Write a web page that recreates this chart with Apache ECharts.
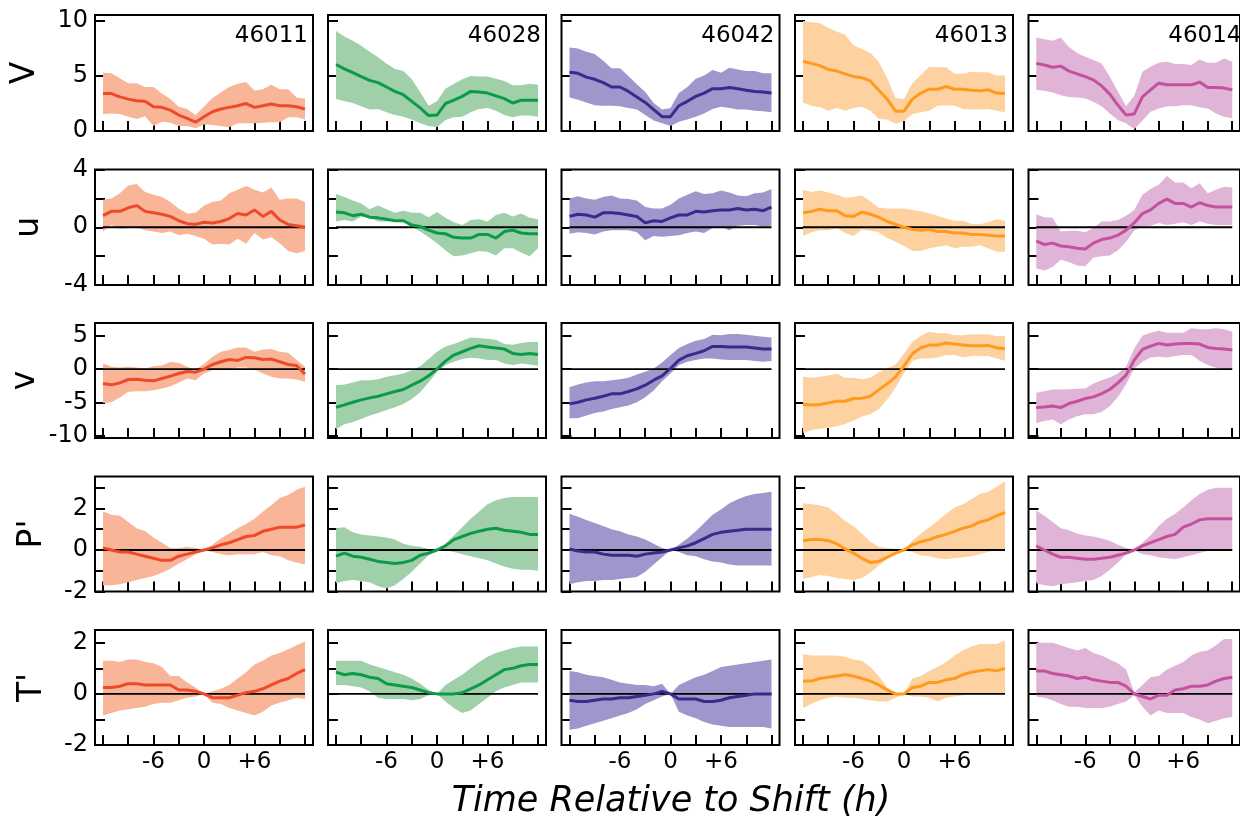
<!DOCTYPE html>
<html>
<head>
<meta charset="utf-8">
<script src="https://cdn.jsdelivr.net/npm/echarts@6/dist/echarts.min.js"></script>
<style>
html, body { margin: 0; padding: 0; background: #fff; }
#chart { width: 1240px; height: 818px; }
</style>
</head>
<body>
<div id="chart"></div>
<script>
// hours relative to the shift
var hours = [-12, -11, -10, -9, -8, -7, -6, -5, -4, -3, -2, -1, 0, 1, 2, 3, 4, 5, 6, 7, 8, 9, 10, 11, 12];
var hourTicks = [-12, -9, -6, -3, 0, 3, 6, 9, 12];
var hourLabels = [-6, 0, 6];

var stations = ['46011', '46028', '46042', '46013', '46014'];
var rowNames = ['V', 'u', 'v', "P'", "T'"];

var spdTicks = [0, 5, 10], spdLabels = [0, 5, 10];
var uTicks = [-4, -2, 0, 2, 4], uLabels = [-4, 0, 4];
var vTicks = [-10, -5, 0, 5], vLabels = [-10, -5, 0, 5];
var pTicks = [-2, -1, 0, 1, 2, 3], pLabels = [-2, 0, 2];
var tTicks = [-2, -1, 0, 1, 2], tLabels = [-2, 0, 2];

// ---- 46011 ----
var spd_46011_mean = [3.4,3.4,3.1,2.9,2.75,2.7,2.2,2.15,1.9,1.45,1.15,0.8,1.3,1.75,2.0,2.15,2.3,2.5,2.15,2.3,2.45,2.3,2.3,2.2,2.0];
var spd_46011_hi = [5.3,5.25,4.8,4.35,4.35,4.0,4.0,3.4,2.9,2.2,2.0,1.45,2.2,3.0,3.5,4.0,4.3,4.45,3.65,3.8,4.2,3.8,3.8,3.05,2.95];
var spd_46011_lo = [1.55,1.6,1.55,1.3,1.1,1.35,0.45,0.85,0.75,0.45,0.45,0.25,0.6,0.55,0.45,0.35,0.7,0.7,0.7,0.75,0.8,0.8,1.25,1.25,1.05];
var u_46011_mean = [0.8,1.1,1.1,1.35,1.5,1.1,1.0,0.9,0.75,0.45,0.25,0.2,0.35,0.3,0.4,0.6,0.95,0.85,1.2,0.75,1.1,0.5,0.2,0.1,0.0];
var u_46011_hi = [1.9,2.0,2.35,2.9,3.0,2.45,2.25,2.1,1.75,1.3,0.95,1.0,1.5,1.75,1.85,2.35,2.6,2.85,2.6,2.4,2.75,1.9,2.0,2.0,1.75];
var u_46011_lo = [-0.3,0.15,-0.1,-0.05,0,-0.2,-0.3,-0.4,-0.3,-0.55,-0.45,-0.6,-0.8,-1.2,-1.15,-1.2,-0.8,-1.15,-0.4,-0.85,-0.7,-1.1,-1.65,-1.8,-1.65];
var v_46011_mean = [-2.15,-2.35,-2.05,-1.55,-1.5,-1.65,-1.75,-1.4,-1.05,-0.65,-0.35,-0.45,0,0.7,1.1,1.45,1.3,1.75,1.7,1.45,1.5,1.1,0.7,0.55,-0.75];
var v_46011_hi = [0.85,0.35,0.25,0.35,0.25,0.1,0.45,0.55,1.05,0.95,0.35,-0.05,0.75,1.85,2.6,2.85,3.25,3.25,2.6,2.95,3.0,2.6,2.45,1.35,0.35];
var v_46011_lo = [-5.05,-4.95,-4.25,-3.4,-3.3,-3.3,-3.15,-2.9,-2.55,-2.05,-1.4,-1.65,-0.65,-0.15,-0.05,-0.05,0.25,0.25,-0.05,-0.65,-1.15,-1.4,-1.4,-1.55,-1.9];
var p_46011_mean = [0.1,0,-0.1,-0.1,-0.2,-0.3,-0.4,-0.5,-0.5,-0.3,-0.2,-0.1,0,0.1,0.25,0.35,0.5,0.65,0.7,0.9,1.0,1.1,1.1,1.1,1.2];
var p_46011_hi = [1.85,1.7,1.65,1.35,1.05,0.9,0.6,0.35,0.1,0.1,0.15,0.1,0,0.25,0.55,0.8,1.05,1.25,1.5,1.85,2.15,2.5,2.65,2.9,3.05];
var p_46011_lo = [-1.7,-1.7,-1.65,-1.55,-1.45,-1.35,-1.25,-1.1,-0.9,-0.65,-0.45,-0.2,0,-0.1,-0.2,-0.25,-0.2,-0.2,-0.2,-0.1,-0.25,-0.3,-0.5,-0.6,-0.7];
var t_46011_mean = [0.25,0.25,0.3,0.4,0.4,0.35,0.35,0.35,0.35,0.15,0.15,0.1,0,-0.15,-0.15,-0.15,-0.05,0.05,0.1,0.2,0.35,0.5,0.6,0.8,0.95];
var t_46011_hi = [1.3,1.3,1.25,1.35,1.35,1.25,1.2,1.05,0.7,0.7,0.45,0.25,0,0.1,0.2,0.35,0.6,0.85,1.15,1.3,1.5,1.6,1.75,1.9,2.05];
var t_46011_lo = [-0.85,-0.75,-0.65,-0.6,-0.55,-0.5,-0.4,-0.35,-0.35,-0.25,-0.15,-0.1,0,-0.35,-0.4,-0.55,-0.65,-0.75,-0.85,-0.7,-0.45,-0.35,-0.25,-0.15,-0.2];

// ---- 46028 ----
var spd_46028_mean = [6.05,5.65,5.3,4.95,4.6,4.4,4.0,3.6,3.3,2.7,2.1,1.4,1.45,2.5,2.8,3.15,3.6,3.55,3.45,3.2,2.95,2.55,2.8,2.8,2.8];
var spd_46028_hi = [9.1,8.6,8.2,7.75,7.2,6.7,6.15,5.65,5.45,4.7,3.55,2.3,2.7,3.85,4.3,4.7,5.0,4.95,4.95,4.75,4.55,4.15,4.15,4.3,4.2];
var spd_46028_lo = [2.9,2.7,2.55,2.25,1.95,2.0,1.7,1.45,1.3,1.05,0.7,0.45,0.35,1.0,1.25,1.3,1.7,2.0,2.1,1.85,1.45,1.25,1.4,1.4,1.3];
var u_46028_mean = [1.05,1.0,0.8,0.9,0.7,0.65,0.55,0.45,0.45,0.15,0.05,-0.2,-0.4,-0.45,-0.7,-0.75,-0.75,-0.5,-0.5,-0.75,-0.3,-0.2,-0.4,-0.45,-0.45];
var u_46028_hi = [2.3,2.1,1.85,1.65,1.25,1.5,1.25,1.0,1.15,1.0,1.0,0.7,1.05,0.65,0.35,0.15,0.5,0.55,0.4,0.85,1.0,0.75,0.95,0.65,0.55];
var u_46028_lo = [0.4,0.5,0.4,0.75,0.65,0.4,0.4,0.45,0.4,0.05,-0.3,-0.7,-1.1,-1.6,-2.0,-1.95,-1.8,-1.65,-1.7,-1.95,-1.45,-1.45,-1.75,-2.0,-1.45];
var v_46028_mean = [-5.7,-5.35,-4.95,-4.6,-4.3,-4.05,-3.7,-3.35,-3.05,-2.4,-1.8,-1.0,0,1.2,2.1,2.6,3.1,3.5,3.3,3.15,3.0,2.35,2.2,2.35,2.2];
var v_46028_hi = [-2.4,-2.3,-2.0,-1.65,-1.65,-1.5,-1.15,-0.9,-0.65,-0.15,0.45,1.5,2.6,3.4,3.75,4.25,4.75,4.65,4.55,4.4,3.75,3.65,3.9,4.05,4.05];
var v_46028_lo = [-9.0,-8.25,-7.9,-7.45,-6.95,-6.55,-6.1,-5.7,-5.2,-4.45,-3.45,-2.0,-0.4,0.6,1.1,1.5,1.7,1.6,1.35,1.35,0.85,0.6,0.85,0.7,0.5];
var p_46028_mean = [-0.3,-0.15,-0.3,-0.35,-0.45,-0.55,-0.6,-0.65,-0.6,-0.5,-0.25,-0.15,0,0.2,0.5,0.65,0.8,0.9,1.0,1.05,0.95,0.9,0.85,0.75,0.75];
var p_46028_hi = [1.05,1.1,0.85,0.75,0.7,0.65,0.6,0.5,0.3,0.2,0.15,0.05,0,0.3,0.7,1.1,1.5,1.85,2.2,2.4,2.5,2.55,2.55,2.55,2.55];
var p_46028_lo = [-1.6,-1.5,-1.45,-1.5,-1.55,-1.75,-1.85,-1.7,-1.4,-1.05,-0.65,-0.25,-0.05,0,-0.1,-0.2,-0.3,-0.4,-0.5,-0.65,-0.8,-0.9,-0.95,-0.95,-1.0];
var t_46028_mean = [0.85,0.75,0.8,0.75,0.65,0.6,0.4,0.35,0.3,0.25,0.15,0.05,0,0,0,0.05,0.2,0.35,0.55,0.75,0.95,1.0,1.1,1.15,1.15];
var t_46028_hi = [1.3,1.3,1.3,1.3,1.15,1.05,0.95,0.85,0.75,0.6,0.4,0.15,0,0.35,0.55,0.75,1.0,1.25,1.45,1.6,1.7,1.8,1.85,1.85,1.85];
var t_46028_lo = [0.35,0.35,0.3,0.25,0.1,-0.15,-0.2,-0.2,-0.2,-0.25,-0.2,-0.05,0,-0.3,-0.55,-0.75,-0.65,-0.4,-0.15,0.1,0.25,0.35,0.45,0.45,0.45];

// ---- 46042 ----
var spd_46042_mean = [5.35,5.25,4.9,4.7,4.4,4.0,4.0,3.6,3.1,2.6,1.95,1.3,1.3,2.3,2.7,3.15,3.45,3.85,3.85,3.95,3.85,3.7,3.6,3.55,3.45];
var spd_46042_hi = [7.6,7.5,7.2,7.0,6.4,5.7,5.7,5.0,4.25,3.55,2.55,1.95,2.1,3.45,4.0,4.75,5.05,5.55,5.3,5.75,5.6,5.45,5.45,5.25,5.25];
var spd_46042_lo = [3.05,2.85,2.6,2.35,2.3,2.3,2.25,2.1,1.95,1.45,0.95,0.7,0.45,0.85,1.05,1.3,1.6,2.0,2.2,2.1,1.95,1.95,1.85,1.8,1.7];
var u_46042_mean = [0.75,0.9,0.85,0.7,1.0,1.0,0.95,0.85,0.75,0.3,0.45,0.4,0.65,0.85,0.85,1.1,1.05,1.15,1.2,1.2,1.3,1.2,1.25,1.15,1.4];
var u_46042_hi = [2.0,2.15,2.0,1.9,2.1,2.2,2.0,1.95,1.85,1.4,1.3,1.3,1.55,2.0,2.25,2.5,2.3,2.35,2.55,2.4,2.2,2.15,2.35,2.4,2.65];
var u_46042_lo = [-0.45,-0.35,-0.4,-0.5,-0.3,-0.2,-0.2,-0.2,-0.35,-0.9,-0.6,-0.65,-0.6,-0.55,-0.4,-0.3,-0.4,-0.05,0.05,-0.2,0.1,0.15,0.15,0.05,0.1];
var v_46042_mean = [-5.2,-4.95,-4.6,-4.35,-4.05,-3.7,-3.7,-3.35,-2.95,-2.4,-1.65,-1.0,0.1,1.35,2.0,2.35,2.75,3.4,3.4,3.3,3.3,3.3,3.15,3.0,3.0];
var v_46042_hi = [-2.7,-2.3,-2.0,-1.8,-1.8,-1.65,-1.5,-1.3,-0.8,-0.4,0.1,1.0,2.1,3.15,3.75,4.25,4.5,5.15,5.05,5.25,5.25,5.15,5.0,4.85,4.75];
var v_46042_lo = [-7.35,-7.35,-6.95,-6.55,-6.35,-5.95,-5.7,-5.45,-4.95,-4.2,-3.2,-1.8,-0.65,0.6,1.1,1.35,1.6,1.6,1.45,1.35,1.35,1.35,1.2,1.1,1.2];
var p_46042_mean = [0.05,-0.05,-0.1,-0.1,-0.2,-0.25,-0.25,-0.25,-0.3,-0.2,-0.15,-0.1,0,0.1,0.2,0.35,0.55,0.75,0.85,0.9,0.95,1.0,1.0,1.0,1.0];
var p_46042_hi = [1.75,1.6,1.45,1.3,1.15,1.0,0.9,0.75,0.65,0.5,0.3,0.1,0,0.25,0.55,0.9,1.3,1.7,1.95,2.25,2.45,2.6,2.7,2.75,2.8];
var p_46042_lo = [-1.65,-1.55,-1.5,-1.5,-1.45,-1.45,-1.4,-1.35,-1.3,-1.05,-0.7,-0.35,0,-0.1,-0.25,-0.3,-0.45,-0.55,-0.6,-0.7,-0.75,-0.75,-0.75,-0.75,-0.75];
var t_46042_mean = [-0.25,-0.3,-0.3,-0.25,-0.2,-0.2,-0.15,-0.15,-0.1,-0.05,0,0.1,0,-0.2,-0.2,-0.2,-0.3,-0.3,-0.25,-0.15,-0.1,-0.05,0,0,0];
var t_46042_hi = [0.9,0.85,0.75,0.7,0.65,0.55,0.45,0.4,0.35,0.35,0.3,0.4,0,0.35,0.5,0.65,0.75,0.9,1.05,1.1,1.15,1.2,1.25,1.3,1.35];
var t_46042_lo = [-1.4,-1.35,-1.25,-1.15,-1.05,-0.95,-0.85,-0.75,-0.6,-0.4,-0.25,-0.1,0,-0.7,-0.85,-0.95,-1.1,-1.2,-1.25,-1.3,-1.3,-1.3,-1.3,-1.3,-1.35];

// ---- 46013 ----
var spd_46013_mean = [6.35,6.15,5.95,5.6,5.45,5.2,4.95,4.85,4.55,3.7,2.9,1.8,1.8,2.9,3.45,3.8,3.8,4.05,3.8,3.8,3.7,3.65,3.75,3.45,3.4];
var spd_46013_hi = [10.0,9.9,9.8,9.4,9.05,8.75,7.8,7.45,7.1,6.3,4.8,3.0,2.9,4.35,5.1,5.85,5.8,5.8,5.2,5.2,5.4,5.35,5.35,5.05,5.05];
var spd_46013_lo = [2.6,2.3,2.15,1.85,2.1,1.85,2.1,2.2,1.85,1.1,1.05,0.65,0.9,1.55,1.7,1.85,2.3,2.35,2.3,2.0,1.95,1.95,2.0,1.85,1.7];
var u_46013_mean = [1.0,1.1,1.25,1.15,1.15,0.8,0.75,1.05,0.9,0.7,0.4,0.2,0,-0.15,-0.2,-0.15,-0.3,-0.3,-0.4,-0.4,-0.5,-0.5,-0.55,-0.6,-0.6];
var u_46013_hi = [2.6,2.45,2.55,2.4,2.25,2.05,2.1,2.2,1.8,1.35,1.3,1.3,1.3,1.2,1.1,0.95,0.8,0.6,0.45,0.45,0.25,0.2,0.35,0.55,0.45];
var u_46013_lo = [-0.6,-0.35,-0.2,-0.2,-0.05,-0.4,-0.6,-0.15,-0.25,-0.35,-0.75,-1.0,-1.3,-1.65,-1.65,-1.45,-1.35,-1.25,-1.45,-1.35,-1.35,-1.25,-1.45,-1.7,-1.7];
var v_46013_mean = [-5.3,-5.35,-5.3,-5.05,-4.8,-4.8,-4.4,-4.35,-4.05,-3.1,-2.2,-1.15,0.5,2.3,3.2,3.6,3.6,3.9,3.75,3.6,3.5,3.5,3.55,3.2,3.05];
var v_46013_hi = [-1.15,-1.3,-1.15,-0.95,-0.7,-1.3,-1.3,-1.5,-1.3,-0.45,0.15,0.7,2.3,4.1,5.0,5.6,5.35,5.35,5.05,5.05,5.2,5.2,5.2,4.9,5.0];
var v_46013_lo = [-9.5,-9.15,-8.9,-8.75,-8.55,-8.2,-7.7,-7.1,-6.75,-6.0,-4.55,-2.75,-0.6,1.25,1.6,1.6,1.75,2.1,2.1,1.75,1.95,1.95,1.95,1.6,1.25];
var p_46013_mean = [0.45,0.5,0.5,0.45,0.3,0.05,-0.15,-0.4,-0.6,-0.55,-0.35,-0.15,0,0.25,0.4,0.5,0.65,0.75,0.9,1.05,1.15,1.35,1.45,1.65,1.8];
var p_46013_hi = [2.25,2.2,2.15,2.05,1.75,1.4,1.15,0.8,0.4,0.15,0.1,0.05,0,0.45,0.8,1.1,1.4,1.75,2.05,2.2,2.45,2.7,2.8,3.05,3.3];
var p_46013_lo = [-1.4,-1.3,-1.2,-1.25,-1.35,-1.4,-1.45,-1.35,-1.1,-0.75,-0.45,-0.1,0,-0.1,-0.25,-0.3,-0.4,-0.45,-0.4,-0.35,-0.3,-0.2,-0.1,0,0];
var t_46013_mean = [0.5,0.5,0.6,0.65,0.7,0.75,0.7,0.6,0.5,0.35,0.15,0,0,0.25,0.3,0.45,0.45,0.55,0.6,0.75,0.85,0.9,0.95,0.9,1.0];
var t_46013_hi = [1.55,1.5,1.5,1.5,1.5,1.45,1.35,1.3,1.05,0.7,0.25,0.05,0,0.6,0.7,0.9,1.05,1.25,1.5,1.7,1.85,1.95,1.95,1.95,2.1];
var t_46013_lo = [-0.55,-0.4,-0.25,-0.15,-0.1,-0.15,-0.15,-0.2,-0.25,-0.3,-0.3,-0.15,0,-0.1,-0.1,-0.15,-0.3,-0.15,-0.1,-0.05,0,0,0,0,0];

// ---- 46014 ----
var spd_46014_mean = [6.15,6.0,5.8,5.9,5.45,5.2,4.95,4.65,4.1,3.35,2.35,1.45,1.55,3.1,3.75,4.35,4.2,4.2,4.2,4.2,4.45,3.95,3.95,3.9,3.75];
var spd_46014_hi = [8.5,8.35,8.2,8.5,7.65,7.1,6.75,6.45,6.15,4.95,3.6,2.25,3.2,5.4,5.85,6.2,6.3,6.1,6.1,6.0,6.5,6.2,6.2,6.6,6.3];
var spd_46014_lo = [3.75,3.65,3.5,3.25,3.1,3.05,2.95,2.65,2.25,1.6,1.0,0.7,0.15,0.95,1.75,2.05,2.25,2.25,2.35,2.35,2.15,2.05,1.6,1.3,1.15];
var u_46014_mean = [-0.95,-1.2,-1.1,-1.3,-1.35,-1.45,-1.5,-1.1,-0.85,-0.75,-0.55,-0.2,0.3,0.95,1.2,1.65,1.95,1.65,1.65,1.4,1.7,1.5,1.4,1.4,1.4];
var u_46014_hi = [0.9,0.7,0.65,-0.3,-0.25,-0.25,-0.35,-0.05,0.4,0.4,0.5,0.8,1.2,2.25,2.65,2.95,3.55,3.1,3.1,2.7,3.05,2.35,2.6,2.8,2.75];
var u_46014_lo = [-2.85,-3.0,-2.75,-2.25,-2.4,-2.65,-2.7,-2.1,-2.0,-1.95,-1.6,-1.0,-0.2,0.05,0.1,0.3,0.15,0.25,0.35,0.15,0.4,0.25,0.15,0.15,0.15];
var v_46014_mean = [-5.75,-5.65,-5.5,-5.75,-5.15,-4.8,-4.4,-4.15,-3.65,-3.05,-2.05,-0.9,1.35,2.95,3.45,3.85,3.6,3.75,3.85,3.85,3.75,3.25,3.1,3.0,2.85];
var v_46014_hi = [-3.55,-3.3,-3.05,-3.05,-3.0,-2.95,-2.9,-2.15,-1.65,-1.25,-0.65,0.35,3.1,5.0,5.45,5.75,5.45,5.45,5.45,6.1,5.95,5.95,6.1,5.95,5.6];
var v_46014_lo = [-8.05,-7.75,-7.55,-8.25,-7.55,-7.05,-6.75,-6.75,-6.4,-5.55,-4.15,-2.25,0.1,1.1,1.75,1.85,1.75,1.95,2.1,2.1,1.25,0.6,0.2,0,0];
var p_46014_mean = [0.2,0,-0.2,-0.35,-0.35,-0.4,-0.45,-0.45,-0.4,-0.35,-0.25,-0.15,0,0.2,0.35,0.5,0.65,0.75,1.1,1.25,1.45,1.5,1.5,1.5,1.5];
var p_46014_hi = [1.9,1.65,1.35,1.05,0.95,0.8,0.7,0.65,0.55,0.45,0.25,0.1,0,0.35,0.7,1.15,1.5,1.75,2.05,2.4,2.7,2.9,3.0,3.0,3.0];
var p_46014_lo = [-1.6,-1.7,-1.75,-1.65,-1.6,-1.55,-1.5,-1.45,-1.25,-0.95,-0.6,-0.2,0,-0.2,-0.25,-0.35,-0.4,-0.45,-0.35,-0.25,-0.15,-0.05,0,0,0];
var t_46014_mean = [0.9,0.9,0.8,0.75,0.7,0.6,0.65,0.55,0.5,0.45,0.45,0.3,0,-0.1,-0.2,-0.05,-0.05,0.15,0.2,0.3,0.3,0.35,0.5,0.6,0.65];
var t_46014_hi = [2.0,2.0,2.0,1.9,1.8,1.7,1.8,1.6,1.5,1.35,1.2,0.95,0.05,0.35,0.65,0.7,0.95,1.1,1.25,1.5,1.65,1.7,1.9,2.15,2.15];
var t_46014_lo = [-0.1,-0.15,-0.25,-0.4,-0.5,-0.5,-0.55,-0.55,-0.55,-0.5,-0.4,-0.3,-0.05,-0.5,-0.85,-0.65,-0.75,-0.75,-0.75,-0.9,-1.0,-1.15,-1.05,-0.95,-0.9];

var chart = echarts.init(document.getElementById('chart'), null, { renderer: 'canvas' });

var FONT = 'DejaVu Sans';
var rowKeys = ['spd', 'u', 'v', 'p', 't'];
var rowTicks = [spdTicks, uTicks, vTicks, pTicks, tTicks];
var rowLabels = [spdLabels, uLabels, vLabels, pLabels, tLabels];
var rowMin = [0, -4, -10.3, -2, -2];
var rowMax = [10.55, 4, 6.9, 3.54, 2.5];
var lineColors = ['#ee4a2a', '#0b9a4a', '#3a2a8c', '#ff9a1e', '#c5509d'];
var fillColors = ['#f8b598', '#a0d0aa', '#9e97cb', '#fdd2a0', '#e0b4d6'];

var colLeft = [95, 328, 561.5, 795, 1028.5];
var rowTop = [15, 169.5, 323, 476.5, 630];
var rowH = [116, 115.5, 115, 115, 115];
var panelW = 218;
var nameBase = [25, 29.5, 25, 32.5, 32.5];

// band between lower and upper edges, drawn as one polygon via the axes' scales
function bandRenderer(color) {
    return function (params, api) {
        if (params.dataIndexInside !== 0) return null;
        var n = params.dataInsideLength;
        var top = [], bot = [];
        for (var k = 0; k < n; k++) {
            var x = api.value(0, k);
            top.push(api.coord([x, api.value(2, k)]));
            bot.unshift(api.coord([x, api.value(1, k)]));
        }
        return {
            type: 'polygon',
            shape: { points: top.concat(bot) },
            style: { fill: color }
        };
    };
}

var grids = [], xAxes = [], yAxes = [], series = [], graphics = [];

rowKeys.forEach(function (key, r) {
    stations.forEach(function (st, c) {
        var i = r * 5 + c;
        var mean = window[key + '_' + st + '_mean'];
        var lo = window[key + '_' + st + '_lo'];
        var hi = window[key + '_' + st + '_hi'];

        grids.push({
            left: colLeft[c], top: rowTop[r], width: panelW, height: rowH[r],
            show: true, borderColor: '#000', borderWidth: 2, backgroundColor: 'transparent'
        });
        xAxes.push({
            gridIndex: i, type: 'value', min: -12.95, max: 12.95, position: 'bottom',
            axisLine: { show: false, onZero: false }, splitLine: { show: false },
            axisTick: { show: true, inside: true, length: 10, customValues: hourTicks,
                lineStyle: { color: '#000', width: 2 } },
            axisLabel: { show: r === 4, customValues: hourLabels, margin: 6,
                fontFamily: FONT, fontSize: 23, color: '#000',
                formatter: function (v) { return v > 0 ? '+' + v : String(v); } }
        });
        yAxes.push({
            gridIndex: i, type: 'value', min: rowMin[r], max: rowMax[r], position: 'left',
            axisLine: { show: false, onZero: false }, splitLine: { show: false },
            axisTick: { show: true, inside: true, length: 10, customValues: rowTicks[r],
                lineStyle: { color: '#000', width: 2 } },
            axisLabel: { show: c === 0, customValues: rowLabels[r], margin: 7,
                fontFamily: FONT, fontSize: 24, color: '#000' }
        });

        series.push({
            type: 'custom', xAxisIndex: i, yAxisIndex: i, silent: true, z: 1,
            data: hours.map(function (h, k) { return [h, lo[k], hi[k]]; }),
            encode: { x: 0, y: [1, 2] },
            renderItem: bandRenderer(fillColors[c])
        });
        if (r > 0) {
            series.push({
                type: 'line', xAxisIndex: i, yAxisIndex: i,
                data: hours.map(function (h) { return [h, 0]; }),
                symbol: 'none', lineStyle: { color: '#000', width: 1.9 }, silent: true, z: 3
            });
        }
        series.push({
            type: 'line', xAxisIndex: i, yAxisIndex: i,
            data: hours.map(function (h, k) { return [h, mean[k]]; }),
            symbol: 'none', lineStyle: { color: lineColors[c], width: 3 }, silent: true, z: 4
        });

        if (r === 0) {
            graphics.push({
                type: 'text', x: colLeft[c] + panelW - 5, y: 36.5, z: 100,
                style: { text: st, fill: '#000', font: '23px "' + FONT + '"',
                    align: 'right', verticalAlign: 'middle', textAlign: 'right', textVerticalAlign: 'middle' }
            });
        }
    });

    graphics.push({
        type: 'text', x: nameBase[r], y: rowTop[r] + rowH[r] / 2, rotation: Math.PI / 2, z: 100,
        style: { text: rowNames[r], fill: '#000', font: '33px "' + FONT + '"',
            align: 'center', verticalAlign: 'middle', textAlign: 'center', textVerticalAlign: 'middle' }
    });
});

graphics.push({
    type: 'text', x: 671, y: 802, z: 100,
    style: { text: 'Time Relative to Shift (h)', fill: '#000', font: 'italic 35px "' + FONT + '"',
        align: 'center', verticalAlign: 'middle', textAlign: 'center', textVerticalAlign: 'middle' }
});

chart.setOption({
    animation: false,
    backgroundColor: '#fff',
    grid: grids,
    xAxis: xAxes,
    yAxis: yAxes,
    series: series,
    graphic: graphics
});
</script>
</body>
</html>
